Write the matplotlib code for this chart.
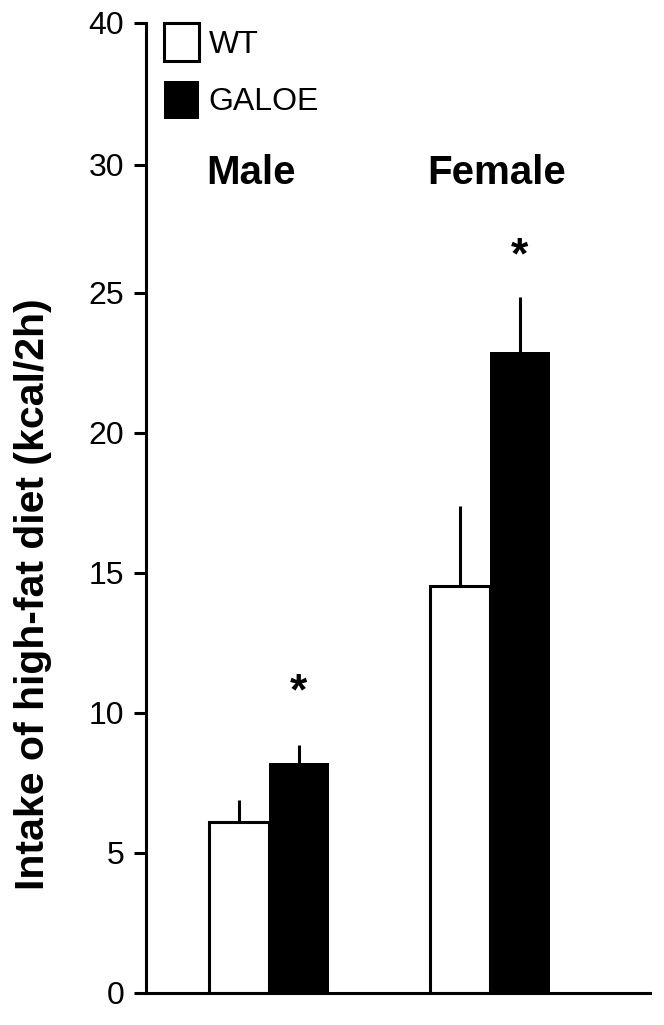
import matplotlib.pyplot as plt
import numpy as np

plt.rcParams['font.family'] = ['Liberation Sans', 'DejaVu Sans']

groups = ["Male", "Female"]
series = ["WT", "GALOE"]
wt_mean = [6.1, 14.55]
wt_err = [0.8, 2.85]
galoe_mean = [8.2, 22.9]
galoe_err = [0.65, 1.95]
star_y = [10.7, 26.3]

# original axis is uneven above 25 (labels 30 and 40 are not at their true heights)
ytick_values = [0, 5, 10, 15, 20, 25, 29.57, 34.64]
ytick_labels = ["0", "5", "10", "15", "20", "25", "30", "40"]

fig = plt.figure(figsize=(6.64, 10.25), dpi=100)
ax = fig.add_axes([146 / 664, 1 - 993 / 1025, 504 / 664, 970 / 1025])

x = np.arange(len(groups))
w = 0.27
lw = 2.2

ax.bar(x - w / 2, wt_mean, w, color="white", edgecolor="black", linewidth=lw,
       label=series[0], zorder=2)
ax.bar(x + w / 2, galoe_mean, w, color="black", edgecolor="black", linewidth=0,
       label=series[1], zorder=2)

ax.errorbar(x - w / 2, wt_mean, yerr=[np.zeros(2), wt_err], fmt="none",
            ecolor="black", elinewidth=lw, capsize=0, zorder=1)
ax.errorbar(x + w / 2, galoe_mean, yerr=[np.zeros(2), galoe_err], fmt="none",
            ecolor="black", elinewidth=lw, capsize=0, zorder=1)

for xi, sy in zip(x, star_y):
    ax.text(xi + w / 2, sy, "*", ha="center", va="center", fontsize=32,
            fontweight="bold")

for xi, g in zip(x, groups):
    ax.text(xi - 0.08 if g == "Male" else xi + 0.03, 29.3, g, ha="center",
            va="center", fontsize=29, fontweight="bold")

ax.set_xlim(-0.557, 1.724)
ax.set_ylim(0, 34.64)
ax.set_xticks([])
ax.set_yticks(ytick_values)
ax.set_yticklabels(ytick_labels, fontsize=23)
ax.tick_params(axis="y", length=8.6, width=lw, pad=7)

for s in ["top", "right"]:
    ax.spines[s].set_visible(False)
for s in ["left", "bottom"]:
    ax.spines[s].set_linewidth(lw)

ax.legend(loc="upper left", bbox_to_anchor=(0.036, 1.0), frameon=False,
          fontsize=23, handlelength=1.1, handleheight=1.45, handletextpad=0.3,
          labelspacing=0.62, borderpad=0, borderaxespad=0)

fig.text(33 / 664, 1 - 594 / 1025, "Intake of high-fat diet (kcal/2h)",
         rotation=90, ha="center", va="center", fontsize=29.5, fontweight="bold")

fig.savefig("out.png", dpi=100)
